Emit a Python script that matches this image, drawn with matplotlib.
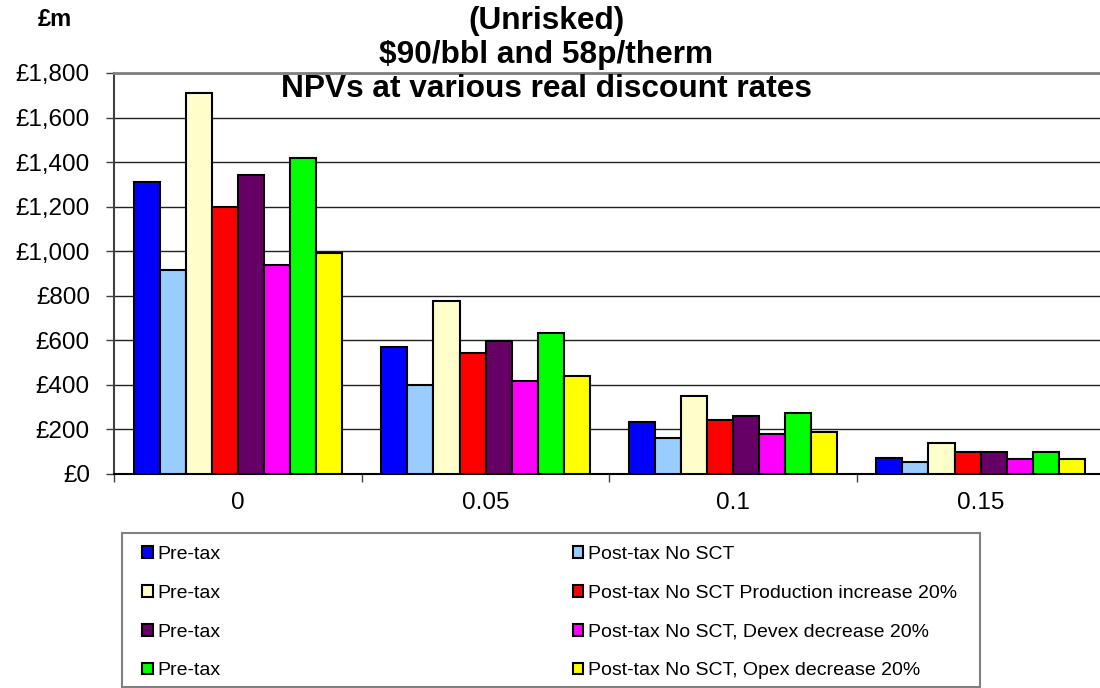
import numpy as np
import matplotlib
matplotlib.use("Agg")
import matplotlib.pyplot as plt
from matplotlib.patches import Patch, Rectangle
from matplotlib.ticker import FuncFormatter

plt.rcParams["font.family"] = ["Liberation Sans", "DejaVu Sans"]

# data (NPV, £m)
rates = ["0", "0.05", "0.1", "0.15"]
pre_tax = [1312, 569, 234, 73]
post_tax = [917, 398, 162, 52]
pre_tax_prod = [1711, 775, 348, 139]
post_tax_prod = [1199, 542, 241, 97]
pre_tax_devex = [1344, 598, 261, 97]
post_tax_devex = [939, 418, 181, 67]
pre_tax_opex = [1417, 634, 273, 99]
post_tax_opex = [992, 442, 189, 69]

series = [pre_tax, post_tax, pre_tax_prod, post_tax_prod,
          pre_tax_devex, post_tax_devex, pre_tax_opex, post_tax_opex]
labels = ["Pre-tax", "Post-tax No SCT",
          "Pre-tax", "Post-tax No SCT Production increase 20%",
          "Pre-tax", "Post-tax No SCT, Devex decrease 20%",
          "Pre-tax", "Post-tax No SCT, Opex decrease 20%"]
colors = ["#0000FF", "#99CCFF", "#FFFFCC", "#FF0000",
          "#660066", "#FF00FF", "#00FF00", "#FFFF00"]

W, H = 1100, 688
fig = plt.figure(figsize=(W / 100, H / 100), dpi=100)
ax = fig.add_axes([114.3 / W, 1 - 474 / H, 990 / W, 401 / H])

x = np.arange(len(rates))
bw = 0.1052
for i, (vals, c) in enumerate(zip(series, colors)):
    ax.bar(x + (i - 3.5) * bw, vals, bw, color=c, edgecolor="black",
           linewidth=1.5, zorder=3)

ax.set_ylim(0, 1800)
ax.set_yticks(np.arange(0, 1801, 200))
ax.yaxis.set_major_formatter(FuncFormatter(lambda v, p: f"£{v:,.0f}"))
ax.yaxis.grid(True, color="#222222", linewidth=1)
ax.set_axisbelow(True)

ax.set_xlim(-0.5, 3.5)
ax.set_xticks(np.arange(-0.5, 3.6, 1.0))
ax.set_xticklabels([])
ax.set_xticks(x, minor=True)
ax.set_xticklabels(rates, minor=True)
ax.tick_params(axis="x", which="major", length=5.5, width=1, color="#404040")
ax.tick_params(axis="x", which="minor", length=0, pad=13, labelsize=17.5)
ax.tick_params(axis="y", length=5.5, width=1, color="#404040", pad=12,
               labelsize=17.5)

ax.spines["right"].set_visible(False)
ax.spines["top"].set_color("#808080")
ax.spines["top"].set_linewidth(2)
ax.spines["left"].set_color("#404040")
ax.spines["left"].set_linewidth(1.5)
ax.spines["bottom"].set_color("black")
ax.spines["bottom"].set_linewidth(1.5)

# title lines
for txt, yb in [("(Unrisked)", 29), ("$90/bbl and 58p/therm", 63),
                ("NPVs at various real discount rates", 97)]:
    fig.text(546 / W, 1 - yb / H, txt, ha="center", va="baseline",
             fontsize=22.8, fontweight="bold")
fig.text(38 / W, 1 - 26 / H, "£m", ha="left", va="baseline",
         fontsize=17, fontweight="bold")

# legend box and entries (column-major order for matplotlib)
fig.patches.append(Rectangle((121.7 / W, 1 - 687 / H), (980 - 121.7) / W,
                             (687 - 532.7) / H, transform=fig.transFigure,
                             facecolor="white", edgecolor="#808080",
                             linewidth=1.5, zorder=1))
order = [0, 2, 4, 6, 1, 3, 5, 7]
handles = [Patch(facecolor=colors[k], edgecolor="black", linewidth=1.5)
           for k in order]
fig.legend(handles, [labels[k] for k in order], ncol=2, frameon=False,
           loc="upper left", bbox_to_anchor=(142 / W, 1 - 546 / H),
           fontsize=14, handlelength=0.55, handleheight=0.55,
           handletextpad=0.25, labelspacing=1.12, columnspacing=18.1,
           borderpad=0, borderaxespad=0)

fig.savefig("out.png", dpi=100)
